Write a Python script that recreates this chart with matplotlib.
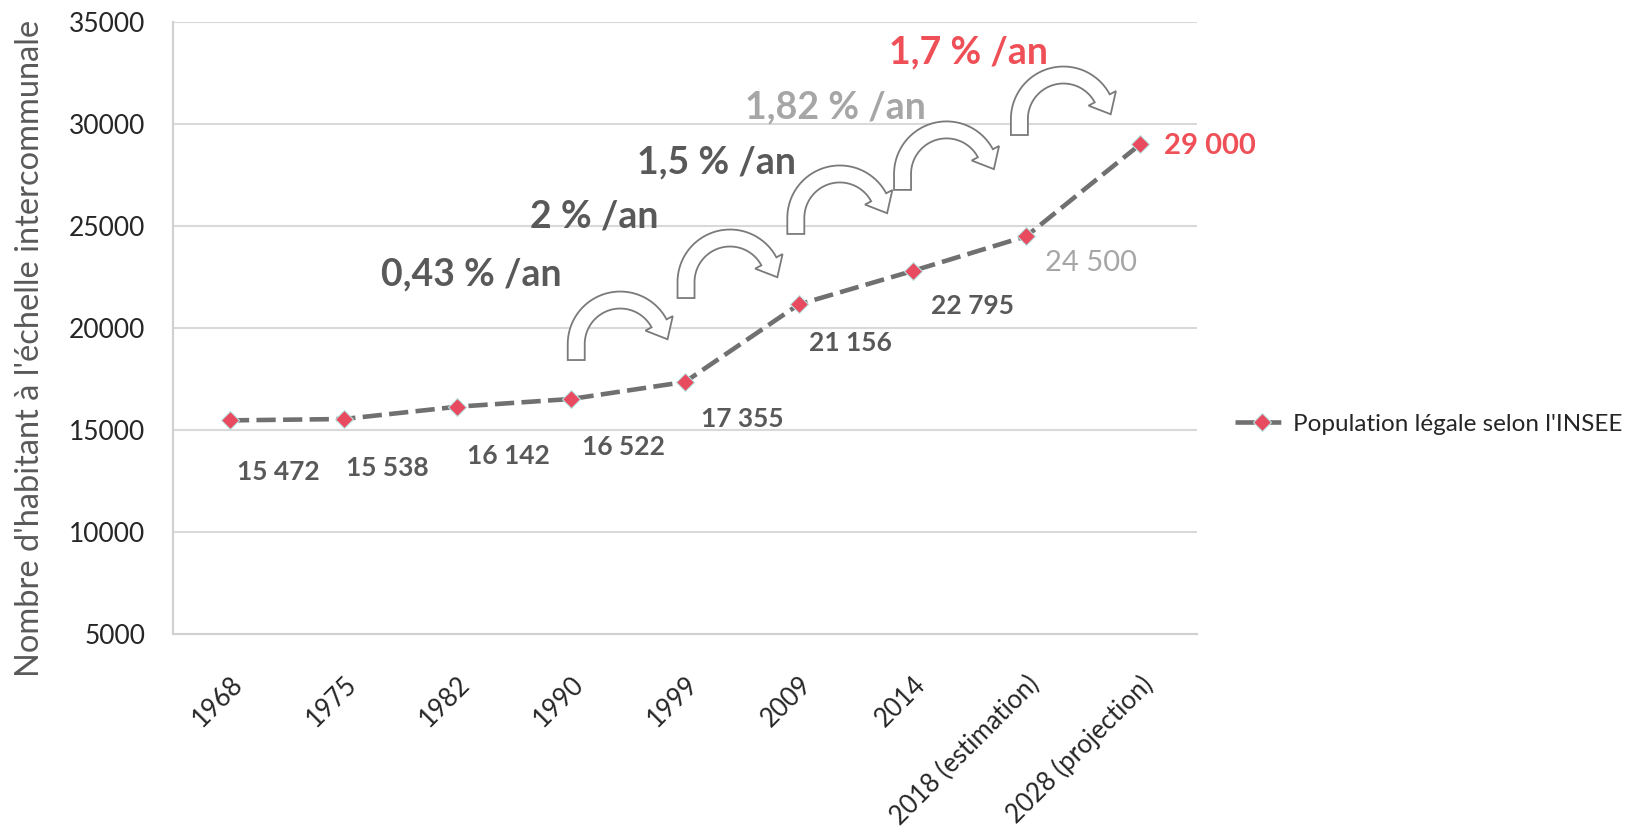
import matplotlib
matplotlib.use("Agg")
import numpy as np
import matplotlib.pyplot as plt
from matplotlib.patches import Polygon
from matplotlib import transforms

plt.rcParams['font.family'] = ['Lato', 'DejaVu Sans']

# data
categories = ['1968', '1975', '1982', '1990', '1999', '2009', '2014',
              '2018 (estimation)', '2028 (projection)']
population = [15472, 15538, 16142, 16522, 17355, 21156, 22795, 24500, 29000]
value_labels = ['15 472', '15 538', '16 142', '16 522', '17 355', '21 156',
                '22 795', '24 500', '29 000']
growth_labels = ['0,43 % /an', '2 % /an', '1,5 % /an', '1,82 % /an', '1,7 % /an']

# styling for labels (offsets in pixels from each point)
label_offsets = [(48, -52), (44, -49), (51, -49), (52, -48), (57, -37),
                 (52, -39), (60, -35), (65, -27), (70, -2)]
label_colors = ['#595959'] * 7 + ['#a6a6a6', '#ef4f57']
label_sizes = [19] * 7 + [21, 21]
label_weights = ['bold'] * 7 + ['normal', 'bold']

growth_pos = [(2.12, 22600), (3.20, 25490), (4.28, 28090), (5.32, 30830), (6.49, 33530)]
growth_colors = ['#595959', '#595959', '#595959', '#a6a6a6', '#ef4f57']

# curved arrows: bottom of the left leg, in data coords
arrow_pos = [(3.044, 18430), (4.009, 21470), (4.974, 24610), (5.912, 26770), (6.939, 29460)]


def curved_arrow_path(r=44, w=8.5, leg=16, theta_end=28, head_w=31, head_l=18):
    # hollow "jump" arrow, pixel offsets from the bottom of the left leg
    t_end = np.radians(theta_end)
    cx, cy = r, leg
    th = np.linspace(np.pi, t_end, 40)
    outer = np.column_stack([cx + (r + w) * np.cos(th), cy + (r + w) * np.sin(th)])
    inner = np.column_stack([cx + (r - w) * np.cos(th[::-1]), cy + (r - w) * np.sin(th[::-1])])
    radial = np.array([np.cos(t_end), np.sin(t_end)])
    tangent = np.array([np.sin(t_end), -np.cos(t_end)])
    base = np.array([cx, cy]) + r * radial
    barb_out = base + head_w / 2 * radial
    barb_in = base - head_w / 2 * radial
    tip = base + head_l * tangent
    pts = [(w, 0), (-w, 0)] + list(outer) + [barb_out, tip, barb_in] + list(inner)
    return np.array(pts)


def main():
    fig = plt.figure(figsize=(16.42, 8.36), dpi=100)
    ax = fig.add_axes([173 / 1642, 1 - 634 / 836, 1024 / 1642, 612 / 836])

    x = list(range(len(categories)))
    line, = ax.plot(x, population, color='#707070', lw=3.3, dashes=(4.2, 1.6),
                    marker='D', markersize=9, markerfacecolor='#e84b5f',
                    markeredgecolor='#b9e3e3', markeredgewidth=0.8,
                    label="Population légale selon l'INSEE", zorder=3)

    ax.set_xlim(-0.5, len(categories) - 0.5)
    ax.set_ylim(5000, 35000)
    ax.set_yticks(range(5000, 35001, 5000))
    ax.set_xticks(x)
    ax.set_xticklabels(categories, rotation=45, ha='right', rotation_mode='anchor')
    ax.grid(axis='y', color='#d9d9d9', lw=1.5)
    ax.set_axisbelow(True)
    for s in ['top', 'right']:
        ax.spines[s].set_visible(False)
    for s in ['left', 'bottom']:
        ax.spines[s].set_color('#d0d0d0')
        ax.spines[s].set_linewidth(1.5)
    ax.tick_params(axis='y', length=0, pad=20, labelsize=19, labelcolor='#262626')
    ax.tick_params(axis='x', length=0, pad=27, labelsize=18.5, labelcolor='#262626')

    ax.set_ylabel("Nombre d'habitant à l'échelle intercommunale", fontsize=23.5,
                  color='#595959')
    ax.yaxis.set_label_coords(-0.125, 0.467)

    # value labels
    for xi, yi, txt, off, c, fs, fw in zip(x, population, value_labels, label_offsets,
                                           label_colors, label_sizes, label_weights):
        ax.annotate(txt, (xi, yi), xytext=off, textcoords='offset pixels',
                    ha='center', va='center', color=c, fontsize=fs, fontweight=fw)

    # growth rates
    for (gx, gy), txt, c in zip(growth_pos, growth_labels, growth_colors):
        ax.text(gx, gy, txt, ha='center', va='center', color=c, fontsize=27,
                fontweight='bold')

    # hollow curved arrows
    shape = curved_arrow_path()
    for ax_x, ax_y in arrow_pos:
        tr = transforms.Affine2D() + transforms.ScaledTranslation(ax_x, ax_y, ax.transData)
        ax.add_patch(Polygon(shape, closed=True, transform=tr, facecolor='white',
                             edgecolor='#7a7a7a', lw=1.3, zorder=2))

    fig.legend(handles=[line], loc='center left',
               bbox_to_anchor=(1213 / 1642, 1 - 424 / 836), frameon=False,
               fontsize=17.5, handlelength=2.2, handletextpad=0.2,
               labelcolor='#262626')

    fig.savefig('out.png', dpi=100)


if __name__ == "__main__":
    main()
